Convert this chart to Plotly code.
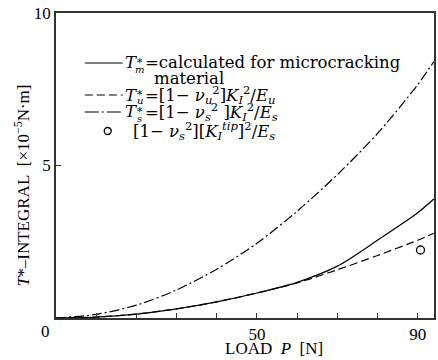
import plotly.graph_objects as go

# ---- data ----
load_P = [0, 10, 20, 30, 40, 50, 60, 70, 80, 90, 94]
T_m = [0, 0.03, 0.13, 0.30, 0.53, 0.82, 1.17, 1.70, 2.55, 3.45, 3.90]
T_u = [0, 0.03, 0.13, 0.30, 0.53, 0.82, 1.15, 1.58, 2.05, 2.55, 2.78]
T_s = [0, 0.12, 0.42, 0.92, 1.60, 2.45, 3.50, 4.70, 6.05, 7.65, 8.40]
tip_P = [90.7]
tip_T = [2.23]

x_tickvals = [10, 20, 30, 40, 50, 60, 70, 80, 90]
x_ticktext = ["", "", "", "", "50", "", "", "", "90"]
y_tickvals = [5, 10]
y_ticktext = ["5", "10"]

W, H = 438, 360
L, R, T, B = 56, 2, 13, 42
PW, PH = W - L - R, H - T - B

def px(x):
    return (x - L) / PW

def py(y):
    return (H - B - y) / PH

SERIF = "DejaVu Serif"
TICKF = "Liberation Serif"

fig = go.Figure()
line_w = 1.2
fig.add_trace(go.Scatter(x=load_P, y=T_m, mode="lines", line=dict(color="black", width=line_w, shape="spline", smoothing=0.8), showlegend=False))
fig.add_trace(go.Scatter(x=load_P, y=T_u, mode="lines", line=dict(color="black", width=line_w, dash="8px,4px", shape="spline", smoothing=0.8), showlegend=False))
fig.add_trace(go.Scatter(x=load_P, y=T_s, mode="lines", line=dict(color="black", width=line_w, dash="10px,3px,2px,3px", shape="spline", smoothing=0.8), showlegend=False))
fig.add_trace(go.Scatter(x=tip_P, y=tip_T, mode="markers", marker=dict(symbol="circle-open", size=8, color="black", line=dict(width=1.3)), showlegend=False))

shapes = []
# legend samples
shapes.append(dict(type="line", xref="paper", yref="paper", x0=px(85), x1=px(123), y0=py(63), y1=py(63), line=dict(color="black", width=1.2)))
shapes.append(dict(type="line", xref="paper", yref="paper", x0=px(85), x1=px(123), y0=py(95), y1=py(95), line=dict(color="black", width=1.2, dash="8px,4px")))
shapes.append(dict(type="line", xref="paper", yref="paper", x0=px(85), x1=px(123), y0=py(112), y1=py(112), line=dict(color="black", width=1.2, dash="14px,3px,2px,3px")))
shapes.append(dict(type="circle", xref="paper", yref="paper", x0=px(104.5), x1=px(111.5), y0=py(127.5), y1=py(134.5), line=dict(color="black", width=1.3)))

fs = 16.5
ann = []
def text(x, y, s, size=fs, font=SERIF, xanchor="left", yanchor="middle", angle=0):
    ann.append(dict(x=px(x), y=py(y), xref="paper", yref="paper", text=s, showarrow=False,
                    xanchor=xanchor, yanchor=yanchor, textangle=angle,
                    font=dict(family=font, size=size, color="black")))

def tstar(y, sub):
    text(123, y, "<i>T</i>")
    text(140.5, y - 1, "*", size=11, xanchor="center")
    text(140, y + 6, "<i>%s</i>" % sub, size=10, xanchor="center")

tstar(63, "m")
text(143, 63, "=calculated for microcracking")
text(153, 79, "material")
tstar(95, "u")
text(143, 95, "=[1− <i>ν<sub>u</sub></i><sup>2</sup>]<i>K<sub>I</sub></i><sup>2</sup>/<i>E<sub>u</sub></i>")
tstar(112, "s")
text(143, 112, "=[1− <i>ν<sub>s</sub></i><sup>2</sup> ]<i>K<sub>I</sub></i><sup>2</sup>/<i>E<sub>s</sub></i>")
text(131, 131, "[1− <i>ν<sub>s</sub></i><sup>2</sup>][<i>K<sub>I</sub><sup>tip</sup></i>]<sup>2</sup>/<i>E<sub>s</sub></i>")

# axis titles and origin label
text(275, 348, "LOAD\u00a0\u00a0<i>P</i>\u00a0\u00a0[N]", size=17, font=TICKF, xanchor="center")
text(22, 185, "<i>T</i>*–INTEGRAL\u00a0\u00a0[×10<sup>−5</sup>N·m]", size=17, font=TICKF, xanchor="center", angle=-90)
text(45, 331, "0", size=17, font=TICKF, xanchor="center")

fig.update_layout(
    width=W, height=H,
    margin=dict(l=L, r=R, t=T, b=B),
    paper_bgcolor="white", plot_bgcolor="white",
    shapes=shapes, annotations=ann,
    xaxis=dict(range=[0, 94.06], tickvals=x_tickvals, ticktext=x_ticktext, ticks="inside", ticklen=5,
               tickcolor="#333", showgrid=False, zeroline=False, showline=True, mirror=True,
               linecolor="#333", linewidth=1.5, tickfont=dict(family=TICKF, size=17, color="black")),
    yaxis=dict(range=[0, 10], tickvals=y_tickvals, ticktext=y_ticktext, ticks="inside", ticklen=5,
               tickcolor="#333", showgrid=False, zeroline=False, showline=True, mirror=True,
               linecolor="#333", linewidth=1.5, tickfont=dict(family=TICKF, size=17, color="black")),
)

fig.write_html("out.html")
